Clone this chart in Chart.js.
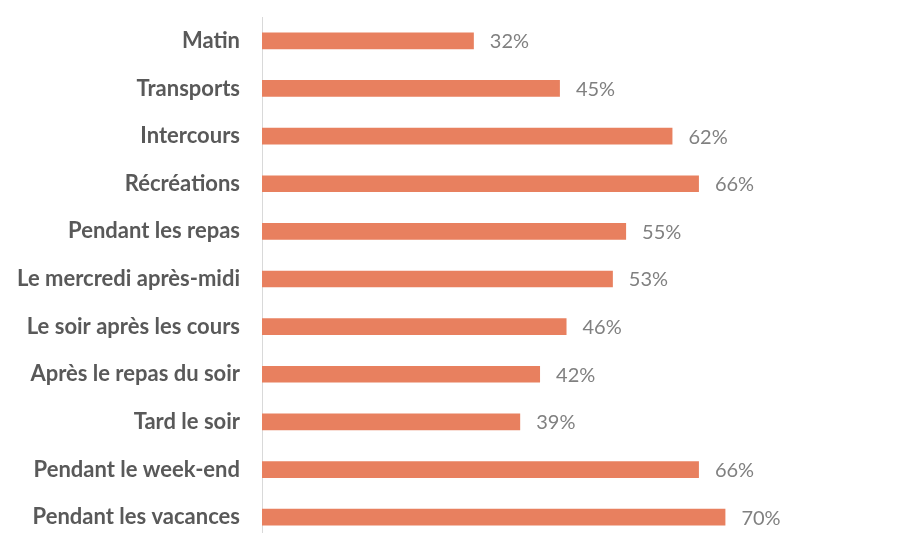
<!DOCTYPE html>
<html>
<head>
<meta charset="utf-8">
<script src="https://cdn.jsdelivr.net/npm/chart.js@4"></script>
<style>
  html, body { margin: 0; padding: 0; background: #fff; overflow: hidden; }
  #wrap { position: absolute; left: 0; top: 0; width: 924px; height: 545px; }
</style>
</head>
<body>
<div id="wrap"><canvas id="moments_chart"></canvas></div>
<script>
// categories and values (percent)
const moments = ['Matin', 'Transports', 'Intercours', 'Récréations', 'Pendant les repas',
    'Le mercredi après-midi', 'Le soir après les cours', 'Après le repas du soir',
    'Tard le soir', 'Pendant le week-end', 'Pendant les vacances'];
const shares = [32, 45, 62, 66, 55, 53, 46, 42, 39, 66, 70];

// draw "NN%" right of each bar, from the bar element positions
const valueLabels = {
    id: 'valueLabels',
    afterDatasetsDraw: (chart) => {
        const ctx = chart.ctx;
        const meta = chart.getDatasetMeta(0);
        ctx.save();
        ctx.font = '20px Lato';
        ctx.fillStyle = '#808080';
        ctx.textAlign = 'left';
        ctx.textBaseline = 'middle';
        meta.data.forEach((bar, i) => {
            ctx.fillText(shares[i] + '%', bar.x + 16, bar.y + 1);
        });
        ctx.restore();
    }
};

new Chart('moments_chart', {
    type: 'bar',
    data: {
        labels: moments,
        datasets: [{
            data: shares,
            backgroundColor: '#e8805f',
            borderWidth: 0,
            barPercentage: 0.35,
            categoryPercentage: 1
        }]
    },
    options: {
        indexAxis: 'y',
        responsive: true,
        maintainAspectRatio: false,
        animation: false,
        layout: { padding: { top: 17, bottom: 4, left: 0, right: 0 } },
        plugins: {
            legend: { display: false },
            tooltip: { enabled: false }
        },
        scales: {
            x: {
                display: false,
                min: 0,
                max: 100
            },
            y: {
                afterFit: (scale) => {
                    scale.width = 262;
                    scale.paddingTop = 0;
                    scale.paddingBottom = 0;
                },
                grid: { display: false, drawTicks: false },
                border: { display: true, color: '#d9d9d9', width: 1 },
                ticks: {
                    padding: 22,
                    color: '#595959',
                    font: { family: 'Lato', size: 22, weight: 'bold' }
                }
            }
        }
    },
    plugins: [valueLabels]
});
</script>
</body>
</html>
